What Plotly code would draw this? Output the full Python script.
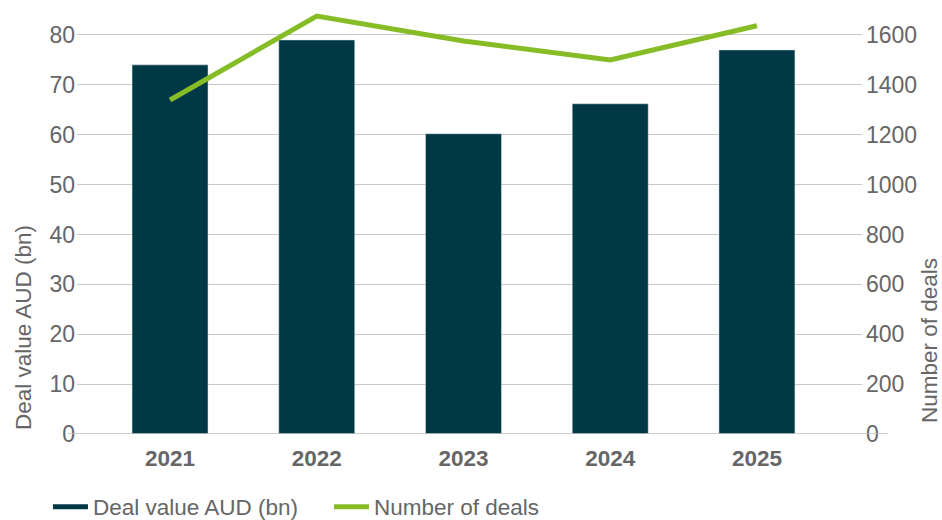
import plotly.graph_objects as go

years = ["2021", "2022", "2023", "2024", "2025"]
deal_value = [74.0, 79.0, 60.2, 66.2, 77.0]
num_deals = [1339, 1676, 1576, 1500, 1637]
left_ticks = [0, 10, 20, 30, 40, 50, 60, 70, 80]
right_ticks = [0, 200, 400, 600, 800, 1000, 1200, 1400, 1600]

BAR = "#003846"
GREEN = "#86BC25"
GRAY = "#666666"
FONT = "Liberation Sans, Arial, sans-serif"

fig = go.Figure()
fig.add_trace(go.Bar(x=years, y=deal_value, marker_color=BAR, showlegend=False,
                     name="Deal value AUD (bn)"))
fig.add_trace(go.Scatter(x=years, y=num_deals, yaxis="y2", mode="lines",
                         line=dict(color=GREEN, width=5), showlegend=False,
                         cliponaxis=False, name="Number of deals"))
# legend entries
fig.add_trace(go.Scatter(x=[None], y=[None], mode="lines", line=dict(color=BAR, width=5),
                         name="Deal value AUD (bn)"))
fig.add_trace(go.Scatter(x=[None], y=[None], mode="lines", line=dict(color=GREEN, width=5),
                         name="Number of deals"))

fig.update_layout(
    width=942, height=520,
    margin=dict(l=77, r=80, t=10, b=86, autoexpand=False),
    plot_bgcolor="white", paper_bgcolor="white",
    font=dict(family=FONT, size=23, color=GRAY),
    bargap=0.482,
    xaxis=dict(type="category", range=[-0.634, 4.716], showgrid=False, showline=False,
               ticks="", tickfont=dict(size=22.5, color=GRAY, family=FONT, weight="bold"),
               ticklabelstandoff=8),
    yaxis=dict(range=[0, 85], tickvals=left_ticks, showgrid=True, gridcolor="#c8c8c8",
               gridwidth=1, zeroline=False, showline=False, ticks="",
               ticklabelstandoff=1),
    yaxis2=dict(range=[0, 1700], tickvals=right_ticks, overlaying="y", side="right",
                showgrid=False, zeroline=False, showline=False, ticks="",
                ticklabelstandoff=3),
    legend=dict(orientation="h", x=-0.037, y=(434 - 507) / 424, xanchor="left",
                yanchor="middle", entrywidth=231, entrywidthmode="pixels",
                itemwidth=35,
                font=dict(size=22.5, color=GRAY, family=FONT)),
)

# baseline axis line
fig.add_shape(type="line", xref="paper", yref="y", x0=-0.0115, x1=1.033, y0=0, y1=0,
              line=dict(color="#bfbfbf", width=1.5))

fig.add_annotation(text="Deal value AUD (bn)", xref="paper", yref="paper",
                   x=(23 - 77) / 785, y=(434 - 328) / 424, textangle=-90,
                   showarrow=False, font=dict(size=22.5, color=GRAY, family=FONT),
                   xanchor="center", yanchor="middle")
fig.add_annotation(text="Number of deals", xref="paper", yref="paper",
                   x=(929 - 77) / 785, y=(434 - 341) / 424, textangle=-90,
                   showarrow=False, font=dict(size=22.5, color=GRAY, family=FONT),
                   xanchor="center", yanchor="middle")

fig.write_html("out.html")
